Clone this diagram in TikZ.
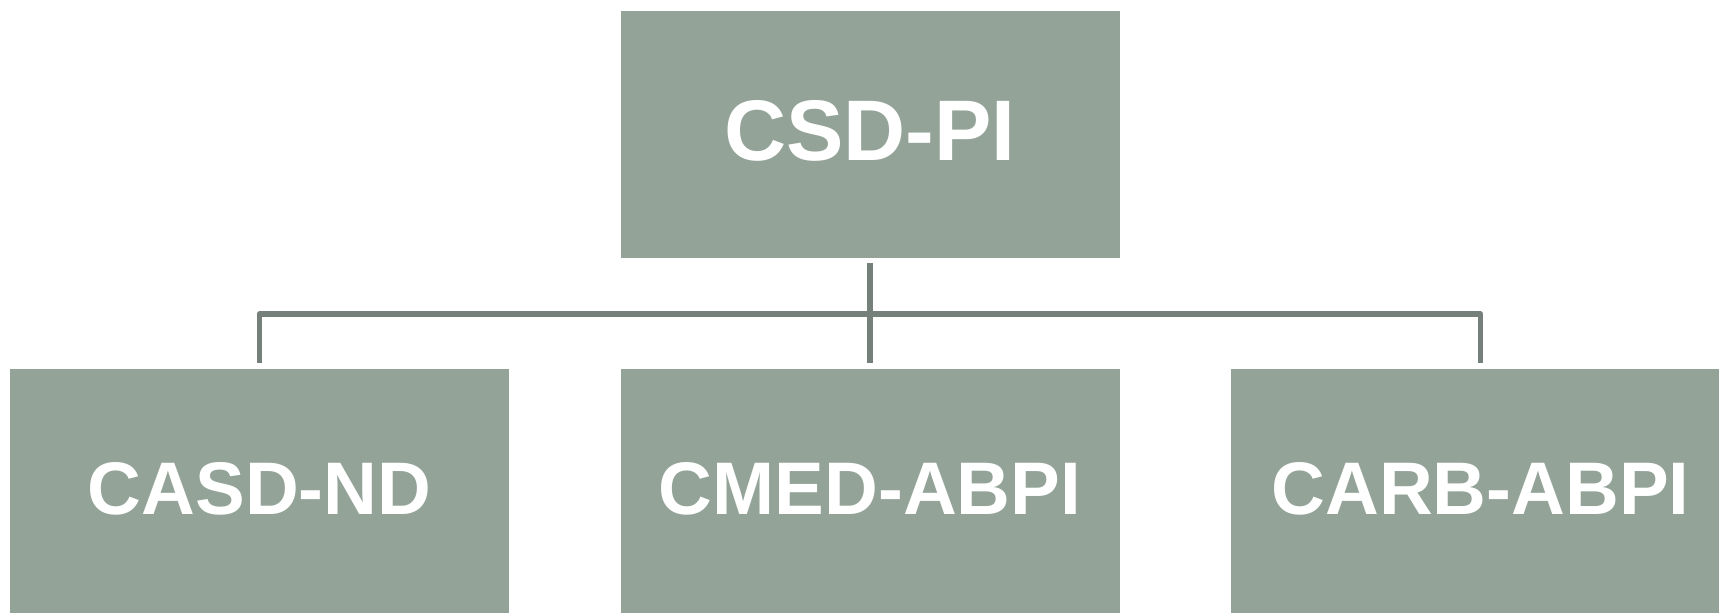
\documentclass[tikz,border=0pt]{standalone}
\usepackage{fontspec}
\setmainfont{Liberation Sans}
\definecolor{boxfill}{HTML}{93A398}
\definecolor{linkcol}{HTML}{76807A}
\begin{document}
\begin{tikzpicture}[x=1pt,y=-1pt,
  orgbox/.style={rectangle, fill=boxfill, draw=none, inner sep=0pt,
    minimum width=499pt, minimum height=246.5pt, text=white,
    font=\bfseries\fontsize{74.5}{74.5}\selectfont, text depth=7pt},
  topbox/.style={orgbox, font=\bfseries\fontsize{86}{86}\selectfont, text depth=8pt},
  link/.style={draw=linkcol, line width=5.5pt, line join=round}]
\useasboundingbox (0,0) rectangle (1719,613);
\clip (0,0) rectangle (1719,613);
\node[topbox] (top) at (870,134.25) {CSD-PI};
\node[orgbox] (left) at (259.5,492.25) {CASD-ND};
\node[orgbox] (mid) at (870,492.25) {CMED-ABPI};
\node[orgbox] (right) at (1480.5,492.25) {CARB-ABPI};
\coordinate (bar) at (870,314);
\draw[link] ([yshift=-5.5pt]top.south) -- ([yshift=6pt]mid.north);
\draw[link] ([yshift=6pt]left.north) |- (bar) -| ([yshift=6pt]right.north);
\end{tikzpicture}
\end{document}
